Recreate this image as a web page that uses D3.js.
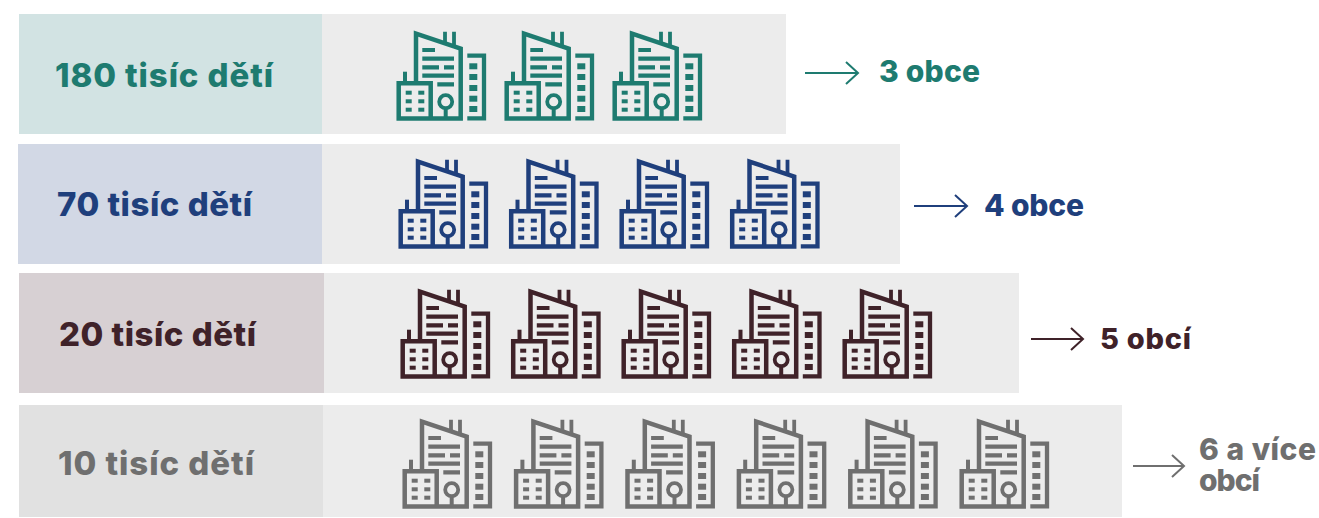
<!DOCTYPE html>
<html><head><meta charset="utf-8">
<script src="https://cdn.jsdelivr.net/npm/d3@7"></script>
<style>html,body{margin:0;background:#fff}svg{display:block}text{font-family:Inter,"Noto Sans",sans-serif;font-weight:800}</style>
</head><body><svg id="c" width="1319" height="518"></svg>
<script>
const labels = ["180 tisíc dětí","70 tisíc dětí","20 tisíc dětí","10 tisíc dětí"];
const buildingCounts = [3,4,5,6];
const outcomes = [["3 obce"],["4 obce"],["5 obcí"],["6 a více","obcí"]];
const inks = ["#1e7b70","#1f3f7c","#3f2229","#6f6f6f"];
const tints = ["#d2e3e3","#d2d8e5","#d7d0d3","#e1e1e1"];
const panel = "#ececec";

// layout scales (row index -> position)
const rows = d3.range(labels.length);
const at = r => d3.scaleOrdinal().domain(rows).range(r);
const barX0 = at([19,18,19,19]), barX1 = at([786,900,1019,1122]), splitX = at([322,322,324,323]);
const barY0 = at([14,144,273,405]), barY1 = at([134,264,393,517]);
const labelX = at([55,57,59,58]), labelW = at([218,195,197,196]), labelY = at([87,216,346,475]);
const iconX = at([397,399,401,403]), iconPitch = at([108,110.5,110.5,111.4]), iconY = at([31,159,289,419]);
const arrowX0 = at([805,914,1031,1133]), arrowX1 = at([859,968,1084,1185]), arrowY = at([73,206,339,466]);
const outX = at([879,984,1100,1199]), outY = at([82,216,349,460]);
const outW = [[101],[100],[91],[117,61]];
const outSize = at([30,30,29,30]);

const svg = d3.select("#c");
function fit(sel,w){
  const n=sel.text().length, len=sel.node().getComputedTextLength();
  sel.style("letter-spacing",((w-len)/(n-1))+"px");
}
function building(g){
  const P=(d,w)=>g.append("path").attr("d",d).attr("fill","none").attr("stroke","currentColor").attr("stroke-width",w);
  P("M19,52 V2.6 L63.7,17.6 V87.5 H1.7 V52.3 H33.7 V87.5",4.5);
  P("M70.3,24.7 H87 V87.3 H70.3",4.3);
  P("M8,52 V40.7",4);
  P("M48,13 V0.7 M57,16 V0.7",3.8);
  P("M25.3,19 H38 M25.3,27.7 H57 M25.3,36.3 H42 M47,36.3 H57 M25.3,44.7 H57 M40.3,53.3 H57",4.2);
  P("M48.7,77 V87.5",4);
  g.append("circle").attr("cx",48.7).attr("cy",70.7).attr("r",6.5).attr("fill","none").attr("stroke","currentColor").attr("stroke-width",3.8);
  const win=(x,y,w,h)=>g.append("rect").attr("x",x).attr("y",y).attr("width",w).attr("height",h).attr("fill","currentColor");
  [8.7,21.3].forEach(x=>[59.7,68.3,76.7].forEach(y=>win(x,y,6,4)));
  [32.3,43,54,64.7,75].forEach(y=>win(72.3,y,8,6));
}
rows.forEach(i=>{
  const g = svg.append("g").style("color",inks[i]);
  g.append("rect").attr("x",barX0(i)).attr("y",barY0(i)).attr("width",barX1(i)-barX0(i)).attr("height",barY1(i)-barY0(i)).attr("fill",panel);
  g.append("rect").attr("x",barX0(i)).attr("y",barY0(i)).attr("width",splitX(i)-barX0(i)).attr("height",barY1(i)-barY0(i)).attr("fill",tints[i]);
  const lt = g.append("text").attr("x",labelX(i)).attr("y",labelY(i)).attr("font-size",33).attr("fill",inks[i]).text(labels[i]);
  fit(lt,labelW(i));
  d3.range(buildingCounts[i]).forEach(k=>{
    building(g.append("g").attr("transform",`translate(${iconX(i)+k*iconPitch(i)},${iconY(i)})`));
  });
  const ax0=arrowX0(i),ax1=arrowX1(i),ay=arrowY(i);
  g.append("path").attr("d",`M${ax0},${ay}H${ax1-1}M${ax1-13},${ay-11}L${ax1-1},${ay}L${ax1-13},${ay+11}`)
    .attr("fill","none").attr("stroke",inks[i]).attr("stroke-width",2);
  const ot = g.append("text").attr("y",outY(i)).attr("font-size",outSize(i)).attr("fill",inks[i]);
  outcomes[i].forEach((t,j)=>{
    const ts = ot.append("tspan").attr("x",outX(i)).attr("dy",j?31:0).text(t);
    fit(ts,outW[i][j]);
  });
});
</script></body></html>
